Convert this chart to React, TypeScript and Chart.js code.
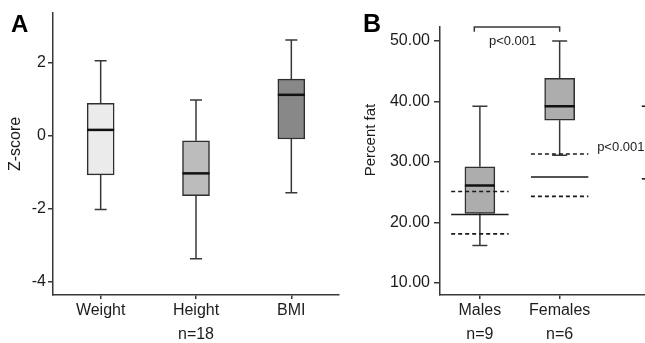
import React, { useEffect, useRef } from 'react';
import { Chart, registerables } from 'chart.js';

Chart.register(...registerables);

// ---------- Panel A data ----------
const zCategories = ['Weight', 'Height', 'BMI'];
const zSampleLabels = ['', 'n=18', ''];
const zMin = [-2.02, -3.37, -1.56];
const zQ1 = [-1.07, -1.64, -0.09];
const zMedian = [0.16, -1.03, 1.12];
const zQ3 = [0.89, -0.14, 1.55];
const zMax = [2.05, 0.98, 2.62];
const zTicks = [-4, -2, 0, 2];
const zFills = ['#ebebeb', '#bcbcbc', '#888888'];

// ---------- Panel B data ----------
const fatCategories = ['Males', 'Females'];
const fatSampleLabels = ['n=9', 'n=6'];
const fatPositions = [1, 2];
const fatMin = [16.2, 31.1];
const fatQ1 = [21.5, 36.9];
const fatMedian = [26.1, 39.2];
const fatQ3 = [29.2, 43.8];
const fatMax = [39.2, 50.0];
const fatRefSolid = [21.3, 27.5];
const fatRefUpper = [25.1, 31.3];
const fatRefLower = [18.1, 24.3];
const fatTicks = [10, 20, 30, 40, 50];
const fatFills = ['#adadad', '#adadad'];
const thirdGroupPosition = 3.03;
const thirdGroupMarks = [39.2, 27.2];
const bracketSpan = [0.93, 2.0];
const bracketLevels = [51.5, 52.3];
const pLabel = 'p<0.001';
const pLabelPositions = [
  { x: 1.41, y: 49.85, align: 'center' },
  { x: 2.47, y: 32.4, align: 'left' },
];

const FONT = "'Liberation Sans', Arial, Helvetica, sans-serif";
const INK = '#1c1c1c';
const LINE = '#383838';

function boxPlugin(id: string, xs: number[], mins: number[], q1s: number[], meds: number[], q3s: number[], maxs: number[], boxW: number, capW: number) {
  return {
    id,
    afterDatasetsDraw(chart: any) {
      const { ctx, scales } = chart;
      const x = scales.x;
      const y = scales.y;
      ctx.save();
      xs.forEach((xv, i) => {
        const px = x.getPixelForValue(xv);
        ctx.strokeStyle = LINE;
        ctx.lineWidth = 1.5;
        ctx.beginPath();
        ctx.moveTo(px, y.getPixelForValue(q3s[i]));
        ctx.lineTo(px, y.getPixelForValue(maxs[i]));
        ctx.moveTo(px, y.getPixelForValue(q1s[i]));
        ctx.lineTo(px, y.getPixelForValue(mins[i]));
        ctx.moveTo(px - capW / 2, y.getPixelForValue(maxs[i]));
        ctx.lineTo(px + capW / 2, y.getPixelForValue(maxs[i]));
        ctx.moveTo(px - capW / 2, y.getPixelForValue(mins[i]));
        ctx.lineTo(px + capW / 2, y.getPixelForValue(mins[i]));
        ctx.stroke();
        ctx.strokeStyle = '#111';
        ctx.lineWidth = 2.5;
        ctx.beginPath();
        ctx.moveTo(px - boxW / 2, y.getPixelForValue(meds[i]));
        ctx.lineTo(px + boxW / 2, y.getPixelForValue(meds[i]));
        ctx.stroke();
      });
      ctx.restore();
    },
  };
}

function textPlugin(id: string, letter: string, letterX: number, letterSize: number, title: string, titleX: number, titleY: number, titleSize: number) {
  return {
    id,
    afterDraw(chart: any) {
      const { ctx } = chart;
      ctx.save();
      ctx.fillStyle = '#000';
      ctx.font = `bold ${letterSize}px ${FONT}`;
      ctx.textAlign = 'left';
      ctx.textBaseline = 'alphabetic';
      ctx.fillText(letter, letterX, 32);
      ctx.fillStyle = INK;
      ctx.font = `${titleSize}px ${FONT}`;
      ctx.translate(titleX, titleY);
      ctx.rotate(-Math.PI / 2);
      ctx.textAlign = 'center';
      ctx.textBaseline = 'middle';
      ctx.fillText(title, 0, 0);
      ctx.restore();
    },
  };
}

const refLinesPlugin = {
  id: 'refLines',
  afterDraw(chart: any) {
    const { ctx, scales } = chart;
    const x = scales.x;
    const y = scales.y;
    const half = 0.36;
    ctx.save();
    ctx.strokeStyle = '#1a1a1a';
    ctx.lineWidth = 1.6;
    fatPositions.forEach((p, i) => {
      const x0 = x.getPixelForValue(p - half);
      const x1 = x.getPixelForValue(p + half);
      ctx.setLineDash([]);
      ctx.beginPath();
      ctx.moveTo(x0, y.getPixelForValue(fatRefSolid[i]));
      ctx.lineTo(x1, y.getPixelForValue(fatRefSolid[i]));
      ctx.stroke();
      ctx.setLineDash([4, 3]);
      ctx.beginPath();
      ctx.moveTo(x0, y.getPixelForValue(fatRefUpper[i]));
      ctx.lineTo(x1, y.getPixelForValue(fatRefUpper[i]));
      ctx.moveTo(x0, y.getPixelForValue(fatRefLower[i]));
      ctx.lineTo(x1, y.getPixelForValue(fatRefLower[i]));
      ctx.stroke();
    });
    ctx.setLineDash([]);
    thirdGroupMarks.forEach((v) => {
      ctx.beginPath();
      ctx.moveTo(x.getPixelForValue(thirdGroupPosition), y.getPixelForValue(v));
      ctx.lineTo(x.getPixelForValue(thirdGroupPosition + 0.2), y.getPixelForValue(v));
      ctx.stroke();
    });
    // significance bracket
    ctx.strokeStyle = LINE;
    ctx.lineWidth = 1.5;
    ctx.beginPath();
    ctx.moveTo(x.getPixelForValue(bracketSpan[0]), y.getPixelForValue(bracketLevels[0]));
    ctx.lineTo(x.getPixelForValue(bracketSpan[0]), y.getPixelForValue(bracketLevels[1]));
    ctx.lineTo(x.getPixelForValue(bracketSpan[1]), y.getPixelForValue(bracketLevels[1]));
    ctx.lineTo(x.getPixelForValue(bracketSpan[1]), y.getPixelForValue(bracketLevels[0]));
    ctx.stroke();
    ctx.fillStyle = INK;
    ctx.font = `13px ${FONT}`;
    ctx.textBaseline = 'middle';
    pLabelPositions.forEach((lp) => {
      ctx.textAlign = lp.align;
      ctx.fillText(pLabel, x.getPixelForValue(lp.x), y.getPixelForValue(lp.y));
    });
    ctx.restore();
  },
};

export default function App() {
  const refA = useRef<HTMLCanvasElement>(null);
  const refB = useRef<HTMLCanvasElement>(null);

  useEffect(() => {
    const tickFont = { family: FONT, size: 16, lineHeight: 1.5 };
    const chartA = new Chart(refA.current as HTMLCanvasElement, {
      type: 'bar',
      data: {
        labels: zCategories,
        datasets: [
          {
            data: zQ1.map((q, i) => [q, zQ3[i]]),
            backgroundColor: zFills,
            borderColor: '#2e2e2e',
            borderWidth: 1.5,
            borderSkipped: false,
            barThickness: 27,
          } as any,
        ],
      },
      options: {
        responsive: false,
        animation: false,
        devicePixelRatio: 1,
        layout: { padding: { top: 13, right: 1, left: 0, bottom: 0 } },
        plugins: { legend: { display: false }, tooltip: { enabled: false } },
        scales: {
          x: {
            offset: true,
            grid: { display: true, drawOnChartArea: false, drawTicks: true, tickLength: 4, tickColor: LINE, lineWidth: 1.5, offset: false },
            border: { display: true, color: LINE, width: 1.5 },
            ticks: {
              color: INK,
              font: tickFont,
              padding: 0,
              maxRotation: 0,
              autoSkip: false,
              callback: (_v: any, i: number) => (zSampleLabels[i] ? [zCategories[i], zSampleLabels[i]] : zCategories[i]),
            },
            afterFit: (s: any) => { s.height = 48; },
          },
          y: {
            min: -4.36,
            max: 3.36,
            afterBuildTicks: (s: any) => { s.ticks = zTicks.map((v) => ({ value: v })); },
            grid: { display: true, drawOnChartArea: false, drawTicks: true, tickLength: 5, tickColor: LINE, lineWidth: 1.5 },
            border: { display: true, color: LINE, width: 1.5 },
            ticks: { color: INK, font: { family: FONT, size: 16 }, padding: 2, callback: (v: any) => String(v) },
            afterFit: (s: any) => { s.width = 53; },
          },
        },
      },
      plugins: [
        boxPlugin('boxA', [0, 1, 2], zMin, zQ1, zMedian, zQ3, zMax, 27, 12),
        textPlugin('textA', 'A', 11, 24, 'Z-score', 16, 144, 16),
      ],
    });

    const chartB = new Chart(refB.current as HTMLCanvasElement, {
      type: 'bar',
      data: {
        datasets: [
          {
            data: fatPositions.map((p, i) => ({ x: p, y: [fatQ1[i], fatQ3[i]] })),
            backgroundColor: fatFills,
            borderColor: '#2e2e2e',
            borderWidth: 1.5,
            borderSkipped: false,
            barThickness: 30,
          } as any,
        ],
      },
      options: {
        responsive: false,
        animation: false,
        devicePixelRatio: 1,
        layout: { padding: { top: 27, right: 0, left: 0, bottom: 0 } },
        plugins: { legend: { display: false }, tooltip: { enabled: false } },
        scales: {
          x: {
            type: 'linear',
            min: 0.5,
            max: 3.07,
            offset: false,
            afterBuildTicks: (s: any) => { s.ticks = fatPositions.map((v) => ({ value: v })); },
            grid: { display: true, drawOnChartArea: false, drawTicks: true, tickLength: 4, tickColor: LINE, lineWidth: 1.5, offset: false },
            border: { display: true, color: LINE, width: 1.5 },
            ticks: {
              color: INK,
              font: tickFont,
              padding: 0,
              maxRotation: 0,
              autoSkip: false,
              callback: (_v: any, i: number) => [fatCategories[i], fatSampleLabels[i]],
            },
            afterFit: (s: any) => { s.height = 48; },
          },
          y: {
            min: 8,
            max: 52.3,
            afterBuildTicks: (s: any) => { s.ticks = fatTicks.map((v) => ({ value: v })); },
            grid: { display: true, drawOnChartArea: false, drawTicks: true, tickLength: 6, tickColor: LINE, lineWidth: 1.5 },
            border: { display: true, color: LINE, width: 1.5 },
            ticks: { color: INK, font: { family: FONT, size: 16 }, padding: 4, callback: (v: any) => Number(v).toFixed(2) },
            afterFit: (s: any) => { s.width = 110; },
          },
        },
      },
      plugins: [
        boxPlugin('boxB', fatPositions, fatMin, fatQ1, fatMedian, fatQ3, fatMax, 30, 15),
        refLinesPlugin,
        textPlugin('textB', 'B', 33, 25, 'Percent fat', 41, 140, 15),
      ],
    });

    return () => {
      chartA.destroy();
      chartB.destroy();
    };
  }, []);

  return (
    <div style={{ position: 'absolute', left: 0, top: 0, width: 645, height: 343, overflow: 'hidden', background: '#fff' }}>
      <canvas ref={refA} width={340} height={343} style={{ position: 'absolute', left: 0, top: 0 }} />
      <canvas ref={refB} width={315} height={343} style={{ position: 'absolute', left: 330, top: 0 }} />
    </div>
  );
}
